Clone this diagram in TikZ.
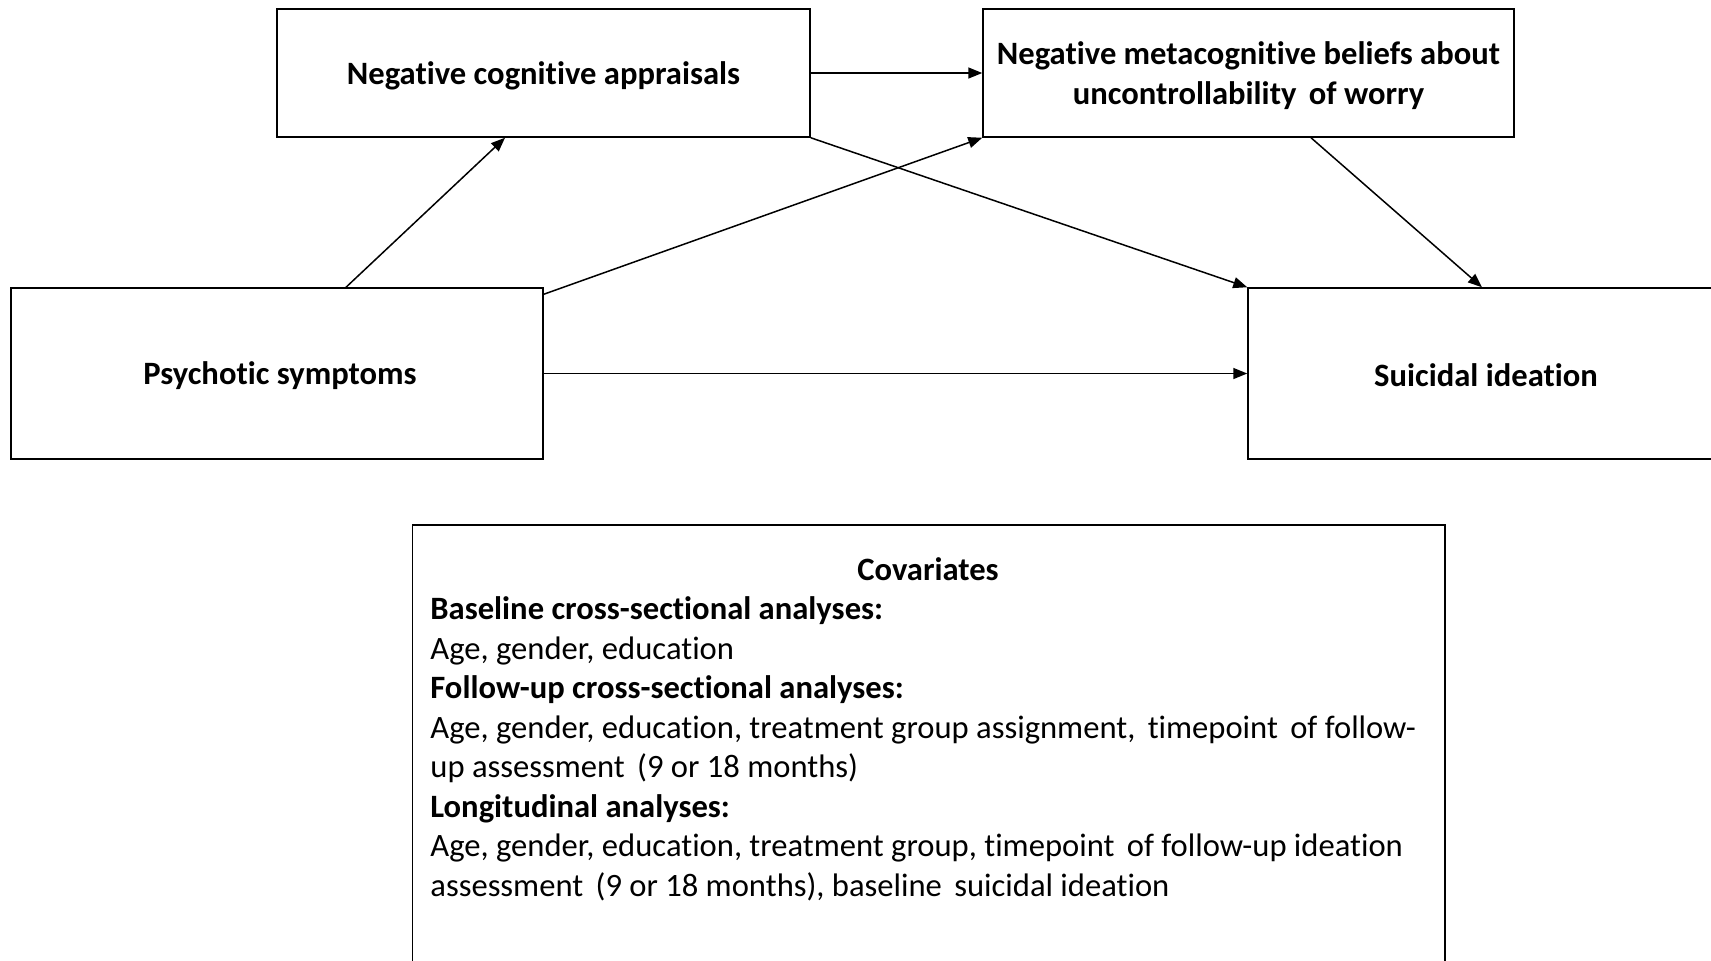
\documentclass[tikz,border=0pt]{standalone}
\usepackage{fontspec}
\setmainfont[Ligatures=CommonOff]{Carlito}
\usetikzlibrary{arrows.meta}
\newcommand{\wsp}{\hspace{2.5pt}}
\tikzset{
  box/.style={draw, line width=0.75pt, inner sep=0pt},
  boxtext/.style={inner sep=0pt, align=center, font=\fontsize{16.3}{20}\selectfont\bfseries},
  arr/.style={line width=0.75pt, -{Triangle[length=7pt,width=5.5pt]}},
  covline/.style={anchor=base west, inner sep=0pt, font=\fontsize{16.3}{19.8}\selectfont},
  covbold/.style={covline, font=\fontsize{16.3}{19.8}\selectfont\bfseries},
}
\begin{document}
\begin{tikzpicture}[x=0.5pt,y=-0.5pt]
\clip (0,0) rectangle (1711,960);
\fill[white] (0,0) rectangle (1711,960);
\node[box, minimum width=266.5pt, minimum height=64pt] (nca) at (543.5,73) {};
\node[box, minimum width=265.5pt, minimum height=64pt] (nmb) at (1248.5,73) {};
\node[box, minimum width=266pt, minimum height=85.5pt] (ps) at (277,373.5) {};
\node[box, minimum width=238pt, minimum height=85.5pt] (si) at (1486,373.5) {};
\node[boxtext] (ncat) at ([yshift=-1.5pt]nca.center) {Negative cognitive appraisals};
\node[boxtext] (nmbt) at ([yshift=-1.5pt]nmb.center) {Negative metacognitive beliefs about\\uncontrollability\wsp{} of worry};
\node[boxtext] (pst) at ([xshift=1.5pt,yshift=-1pt]ps.center) {Psychotic symptoms};
\node[boxtext] (sit) at ([yshift=-1pt]si.center) {Suicidal ideation};
\node[box, minimum width=516.25pt, minimum height=237.5pt] (cov) at (928.75,762.5) {};
\draw[arr] ([xshift=34.5pt]ps.north) -- ([xshift=-19.25pt]nca.south);
\draw[arr] ([yshift=-3.5pt]ps.north east) -- (nmb.south west);
\draw[arr] (nca.east) -- (nmb.west);
\draw[arr] (nca.south east) -- (si.north west);
\draw[arr] ([xshift=31.25pt]nmb.south) -- ([xshift=-2pt]si.north);
\draw[arr] (ps.east) -- (si.west);
\node[covbold, anchor=base] (covt) at (928,580) {Covariates};
\node[covbold] (c1) at (430,619.5) {Baseline cross-sectional analyses:};
\node[covline] (c2) at (430,659) {Age, gender, education};
\node[covbold] (c3) at (430,698.5) {Follow-up cross-sectional analyses:};
\node[covline] (c4) at (430,738) {Age, gender, education, treatment group assignment,\wsp{} timepoint\wsp{} of follow-};
\node[covline] (c5) at (430,777.5) {up assessment\wsp{} (9 or 18 months)};
\node[covbold] (c6) at (430,817) {Longitudinal analyses:};
\node[covline] (c7) at (430,856.5) {Age, gender, education, treatment group, timepoint\wsp{} of follow-up ideation};
\node[covline] (c8) at (430,896) {assessment\wsp{} (9 or 18 months), baseline\wsp{} suicidal ideation};
\end{tikzpicture}
\end{document}
